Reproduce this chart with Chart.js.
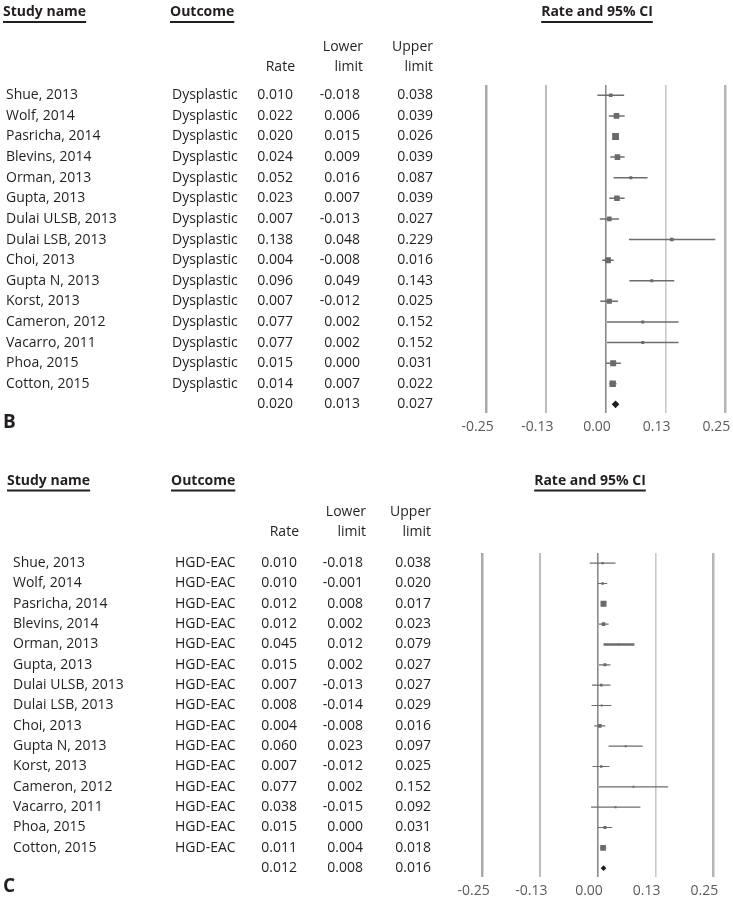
<!DOCTYPE html>
<html>
<head>
<meta charset="utf-8">
<script src="https://cdn.jsdelivr.net/npm/chart.js@4.4.1/dist/chart.umd.min.js"></script>
<style>
  body { margin: 0; background: #fff; }
  canvas { display: block; }
</style>
</head>
<body>
<canvas id="chartB" width="733" height="450"></canvas>
<canvas id="chartC" width="733" height="450"></canvas>
<script>
"use strict";

const studies = [
  "Shue, 2013", "Wolf, 2014", "Pasricha, 2014", "Blevins, 2014", "Orman, 2013",
  "Gupta, 2013", "Dulai ULSB, 2013", "Dulai LSB, 2013", "Choi, 2013", "Gupta N, 2013",
  "Korst, 2013", "Cameron, 2012", "Vacarro, 2011", "Phoa, 2015", "Cotton, 2015",
];

// panel B - dysplastic
const dysRate  = [0.010, 0.022, 0.020, 0.024, 0.052, 0.023, 0.007, 0.138, 0.004, 0.096, 0.007, 0.077, 0.077, 0.015, 0.014];
const dysLower = [-0.018, 0.006, 0.015, 0.009, 0.016, 0.007, -0.013, 0.048, -0.008, 0.049, -0.012, 0.002, 0.002, 0.000, 0.007];
const dysUpper = [0.038, 0.039, 0.026, 0.039, 0.087, 0.039, 0.027, 0.229, 0.016, 0.143, 0.025, 0.152, 0.152, 0.031, 0.022];
const dysSummary = [0.020, 0.013, 0.027];

// panel C - HGD-EAC
const hgdRate  = [0.010, 0.010, 0.012, 0.012, 0.045, 0.015, 0.007, 0.008, 0.004, 0.060, 0.007, 0.077, 0.038, 0.015, 0.011];
const hgdLower = [-0.018, -0.001, 0.008, 0.002, 0.012, 0.002, -0.013, -0.014, -0.008, 0.023, -0.012, 0.002, -0.015, 0.000, 0.004];
const hgdUpper = [0.038, 0.020, 0.017, 0.023, 0.079, 0.027, 0.027, 0.029, 0.016, 0.097, 0.025, 0.152, 0.092, 0.031, 0.018];
const hgdSummary = [0.012, 0.008, 0.016];

const tickValues = [-0.25, -0.125, 0, 0.125, 0.25];
const tickLabels = ["-0.25", "-0.13", "0.00", "0.13", "0.25"];

const FONT = "'Open Sans', 'DejaVu Sans', sans-serif";
const INK = "#231f20";

// drawing of the table columns and headers
const tablePlugin = {
  id: "forestTable",
  afterDraw(chart, args, o) {
    const ctx = chart.ctx;
    const y = chart.scales.y;
    const t = o.text;
    ctx.save();
    ctx.fillStyle = INK;
    ctx.strokeStyle = INK;
    ctx.textBaseline = "middle";

    // headers
    ctx.font = "bold 14px " + FONT;
    const hdr = (txt, x, yy, align) => {
      ctx.textAlign = align;
      ctx.fillText(txt, x, yy);
      const w = ctx.measureText(txt).width;
      const x0 = align === "center" ? x - w / 2 : x;
      ctx.fillRect(x0, t.lineY, w, 2);
    };
    hdr("Study name", t.nameHX, t.hdrY, "left");
    hdr("Outcome", t.outHX, t.hdrY, "left");
    hdr("Rate and 95% CI", t.ciX, t.hdrY, "center");

    ctx.font = "14px " + FONT;
    ctx.textAlign = "right";
    ctx.fillText("Lower", t.lowX + 3, t.subY1);
    ctx.fillText("limit", t.lowX + 3, t.subY2);
    ctx.fillText("Upper", t.upX, t.subY1);
    ctx.fillText("limit", t.upX, t.subY2);
    ctx.fillText("Rate", t.rateX + 2, t.subY2);

    // rows
    o.rate.forEach((r, i) => {
      const py = y.getPixelForValue(i);
      ctx.textAlign = "left";
      ctx.fillText(studies[i], t.nameX, py);
      ctx.fillText(o.outcome, t.outX, py);
      ctx.textAlign = "right";
      ctx.fillText(r.toFixed(3), t.rateX, py);
      ctx.fillText(o.lower[i].toFixed(3), t.lowX, py);
      ctx.fillText(o.upper[i].toFixed(3), t.upX, py);
    });
    const sy = y.getPixelForValue(o.rate.length);
    ctx.fillText(o.summary[0].toFixed(3), t.rateX, sy);
    ctx.fillText(o.summary[1].toFixed(3), t.lowX, sy);
    ctx.fillText(o.summary[2].toFixed(3), t.upX, sy);

    // panel letter
    ctx.font = "bold 19px " + FONT;
    ctx.textAlign = "left";
    ctx.fillText(o.letter, 3, t.letterY);
    ctx.restore();
  },
};

function makeForest(id, cfg) {
  const n = cfg.rate.length;
  const pts = cfg.rate.map((r, i) => ({ x: r, y: i }));
  pts.push({ x: cfg.summary[0], y: n });

  const ciSets = cfg.rate.map((r, i) => ({
    data: [{ x: cfg.lower[i], y: i }, { x: cfg.upper[i], y: i }],
    showLine: true,
    borderColor: "#6d6d6d",
    borderWidth: cfg.ciWidth[i],
    pointRadius: 0,
  }));

  new Chart(document.getElementById(id), {
    type: "scatter",
    data: {
      datasets: [
        {
          data: pts,
          pointStyle: cfg.rate.map(() => "rect").concat(["rectRot"]),
          pointRadius: cfg.half.map((h) => h / Math.SQRT1_2).concat([cfg.diamond]),
          backgroundColor: cfg.rate.map(() => "#6a6a6a").concat(["#1e1e1e"]),
          borderWidth: 0,
        },
        ...ciSets,
      ],
    },
    options: {
      responsive: false,
      animation: false,
      events: [],
      layout: { padding: { left: cfg.area.left, right: 733 - cfg.area.right, top: cfg.area.top, bottom: 0 } },
      plugins: {
        legend: { display: false },
        tooltip: { enabled: false },
        forestTable: {
          rate: cfg.rate, lower: cfg.lower, upper: cfg.upper, summary: cfg.summary,
          outcome: cfg.outcome, letter: cfg.letter, text: cfg.text,
        },
      },
      scales: {
        x: {
          type: "linear",
          min: -0.25,
          max: 0.25,
          afterBuildTicks: (s) => { s.ticks = tickValues.map((v) => ({ value: v })); },
          afterFit: (s) => { s.height = cfg.area.axisH; s.paddingLeft = 0; s.paddingRight = 0; },
          border: { display: false },
          grid: {
            drawTicks: false,
            color: ["#a9a9a9", "#bdbdbd", "#8a8a8a", "#c9c9c9", "#b5b5b5"],
            lineWidth: [2.5, 2, 1.6, 1.6, 2.5],
          },
          ticks: {
            autoSkip: false,
            maxRotation: 0,
            padding: 6,
            labelOffset: -9,
            color: "#5a5a5a",
            font: { family: FONT, size: 14 },
            callback: (v, i) => tickLabels[i],
          },
        },
        y: {
          type: "linear",
          reverse: true,
          min: -0.5,
          max: n + 0.42,
          display: false,
        },
      },
    },
    plugins: [tablePlugin],
  });
}

makeForest("chartB", {
  rate: dysRate, lower: dysLower, upper: dysUpper, summary: dysSummary,
  outcome: "Dysplastic", letter: "B",
  half: [1.8, 2.8, 3.4, 2.8, 1.5, 2.8, 2.3, 1.8, 3.0, 1.5, 2.5, 1.5, 1.5, 3.0, 3.2],
  diamond: 3.8,
  ciWidth: [1.5, 1.5, 1.5, 1.5, 1.5, 1.5, 1.5, 1.5, 1.5, 1.5, 1.5, 1.5, 1.5, 1.5, 1.5],
  area: { left: 486.7, right: 725.3, top: 85, axisH: 37 },
  text: {
    hdrY: 12, lineY: 21, subY1: 47, subY2: 67, letterY: 423, ciX: 597,
    nameHX: 3, outHX: 170, nameX: 6, outX: 172, rateX: 293, lowX: 360, upX: 433,
  },
});

makeForest("chartC", {
  rate: hgdRate, lower: hgdLower, upper: hgdUpper, summary: hgdSummary,
  outcome: "HGD-EAC", letter: "C",
  half: [1.2, 1.3, 3.0, 1.8, 0.8, 1.5, 1.3, 1.0, 1.8, 1.0, 1.2, 1.0, 1.0, 1.5, 2.8],
  diamond: 2.8,
  ciWidth: [1.2, 1.2, 1.2, 1.2, 2.6, 1.2, 1.2, 1.2, 1.2, 1.2, 1.2, 1.2, 1.2, 1.2, 1.2],
  area: { left: 482.7, right: 713.3, top: 103, axisH: 23.3 },
  text: {
    hdrY: 31, lineY: 39.5, subY1: 62, subY2: 82, letterY: 437, ciX: 590,
    nameHX: 7, outHX: 171, nameX: 13, outX: 175, rateX: 297, lowX: 363, upX: 431,
  },
});
</script>
</body>
</html>
